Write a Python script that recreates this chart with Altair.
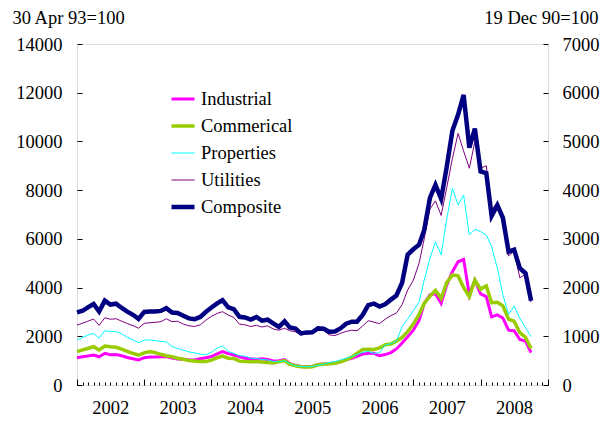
import altair as alt
import pandas as pd

# ---- data (monthly closes, Jan 2002 .. Oct 2008) ----
months = pd.date_range("2002-01-01", "2008-10-01", freq="MS")

industrial = [1120, 1160, 1190, 1230, 1160, 1300, 1240, 1250, 1200, 1130, 1080, 1030,
              1120, 1150, 1150, 1160, 1170, 1110, 1070, 1060, 1040, 1030, 1080, 1120,
              1170, 1280, 1370, 1290, 1230, 1160, 1100, 1080, 1060, 1080, 1050, 990,
              1000, 1040, 880, 800, 760, 750, 760, 840, 860, 880, 900, 950,
              1050, 1100, 1180, 1270, 1300, 1300, 1200, 1250, 1330, 1480, 1720, 1980,
              2250, 2650, 3350, 3700, 3750, 3350, 4100, 4650, 5060, 5160, 3700, 4310,
              3740, 3630, 2800, 2880, 2750, 2250, 2230, 1870, 1800, 1330]
commercial = [1370, 1440, 1500, 1570, 1440, 1600, 1570, 1550, 1470, 1380, 1300, 1230,
              1320, 1370, 1330, 1260, 1200, 1160, 1100, 1060, 1010, 985, 960, 960,
              1020, 1120, 1190, 1100, 1090, 980, 960, 950, 960, 940, 920, 900,
              950, 1000, 850, 790, 750, 740, 750, 830, 850, 870, 890, 950,
              1030, 1150, 1300, 1460, 1470, 1460, 1520, 1650, 1680, 1800, 1950, 2190,
              2500, 2900, 3350, 3650, 3880, 3560, 4200, 4520, 4480, 4000, 3630, 4310,
              3930, 4070, 3380, 3400, 3250, 2700, 2620, 2150, 1960, 1500]
properties = [1850, 1950, 2050, 2120, 1920, 2230, 2200, 2190, 2100, 1950, 1850, 1740,
              1840, 1850, 1820, 1790, 1770, 1580, 1500, 1430, 1360, 1320, 1270, 1240,
              1350, 1520, 1600, 1380, 1300, 1200, 1190, 1100, 1090, 1050, 1030, 970,
              950, 1000, 880, 780, 760, 750, 760, 800, 850, 920, 960, 1030,
              1100, 1180, 1250, 1340, 1380, 1300, 1320, 1640, 1700, 1800, 2400, 2700,
              3050, 3400, 4300, 5200, 5880, 5340, 6800, 8080, 7390, 7800, 6160, 6390,
              6300, 6160, 5680, 4800, 3700, 2900, 3240, 2740, 2350, 1985]
utilities = [2460, 2540, 2620, 2710, 2450, 2760, 2700, 2720, 2620, 2520, 2440, 2330,
             2530, 2560, 2570, 2600, 2720, 2600, 2620, 2500, 2430, 2400, 2470, 2660,
             2820, 2940, 3010, 2870, 2780, 2500, 2470, 2400, 2450, 2380, 2430, 2300,
             2250, 2330, 2230, 2180, 2060, 2090, 2120, 2260, 2240, 2060, 2030, 2120,
             2200, 2250, 2230, 2420, 2640, 2580, 2520, 2700, 2850, 2950, 3300, 3900,
             4300, 5000, 6000, 7220, 7560, 6960, 8100, 9300, 10330, 9600, 8900, 9990,
             8900, 9000, 7190, 7500, 6700, 5300, 5500, 4400, 4550, 3400]
composite = [1491, 1524, 1594, 1662, 1507, 1732, 1651, 1669, 1581, 1507, 1441, 1357,
             1500, 1511, 1511, 1521, 1577, 1487, 1477, 1421, 1367, 1349, 1397, 1497,
             1590, 1675, 1742, 1595, 1555, 1399, 1386, 1342, 1396, 1320, 1340, 1266,
             1191, 1306, 1181, 1159, 1060, 1080, 1083, 1162, 1155, 1092, 1099, 1161,
             1258, 1299, 1298, 1440, 1641, 1672, 1612, 1658, 1752, 1837, 2099, 2675,
             2786, 2881, 3183, 3841, 4109, 3820, 4471, 5218, 5552, 5954, 4871, 5262,
             4383, 4348, 3473, 3693, 3433, 2736, 2776, 2397, 2293, 1729]

series_names = ["Industrial", "Commerical", "Properties", "Utilities", "Composite"]
series_colors = ["#FF00FF", "#99CC00", "#00FFFF", "#800080", "#000080"]
series_widths = [3, 3.5, 1, 1, 4.5]

left_ticks = list(range(0, 14001, 2000))
right_ticks = list(range(0, 7001, 1000))
year_labels = list(range(2002, 2009))

FONT = "Liberation Serif"
FS = 18.5

left_df = pd.DataFrame({
    "date": list(months) * 4,
    "value": industrial + commercial + properties + utilities,
    "series": sum([[n] * len(months) for n in series_names[:4]], []),
})
comp_df = pd.DataFrame({"date": months, "value": composite, "series": "Composite"})

xscale = alt.Scale(domain=[alt.DateTime(year=2002, month=1, date=1),
                           alt.DateTime(year=2009, month=1, date=1)])

# year labels centred in each year (no ticks)
label_axis = alt.Axis(orient="bottom",
                      values=[alt.DateTime(year=y, month=7, date=1) for y in year_labels],
                      format="%Y", ticks=False, domain=False, grid=False, labelPadding=13,
                      labelFont=FONT, labelFontSize=FS, labelColor="black",
                      labelFlush=False, labelOverlap=False, title=None)
# monthly minor ticks pointing inward
minor_axis = alt.Axis(orient="bottom",
                      values=[alt.DateTime(year=2002 + m // 12, month=m % 12 + 1, date=1)
                              for m in range(85)],
                      labels=False, domain=False, grid=False, ticks=True, tickSize=3,
                      offset=-3, tickColor="black", tickWidth=1, title=None, zindex=1)
# yearly major ticks pointing inward
major_axis = alt.Axis(orient="bottom",
                      values=[alt.DateTime(year=y, month=1, date=1) for y in range(2002, 2010)],
                      labels=False, domain=False, grid=False, ticks=True, tickSize=6,
                      offset=-6, tickColor="black", tickWidth=1, title=None, zindex=1)

legend = alt.Legend(orient="none", legendX=92, legendY=43, title=None,
                    symbolType="stroke", symbolSize=529, labelFont=FONT,
                    labelFontSize=FS, labelColor="black", rowPadding=3,
                    clipHeight=24, labelOffset=4, padding=0)
color = alt.Color("series:O",
                  scale=alt.Scale(type="ordinal", domain=series_names, range=series_colors),
                  sort=series_names, legend=legend)
swidth = alt.StrokeWidth("series:O",
                         scale=alt.Scale(type="ordinal", domain=series_names, range=series_widths),
                         sort=series_names, legend=legend)

lyaxis = alt.Axis(values=left_ticks, format="d", offset=-5, tickSize=5, tickColor="black",
                  tickWidth=1, zindex=1,
                  domain=False, grid=False, labelPadding=15, labelFont=FONT,
                  labelFontSize=FS, labelColor="black", labelOverlap=False,
                  title="30 Apr 93=100", titleAngle=0, titleAlign="left",
                  titleBaseline="middle", titleX=-70, titleY=-27, titleFont=FONT,
                  titleFontSize=FS, titleFontWeight="normal", titleColor="black")
ryaxis = alt.Axis(orient="right", values=right_ticks, format="d", offset=-5, tickSize=5,
                  tickColor="black", tickWidth=1, zindex=1,
                  domain=False, grid=False, labelPadding=14,
                  labelFont=FONT, labelFontSize=FS, labelColor="black", labelOverlap=False,
                  title="19 Dec 90=100", titleAngle=0, titleAlign="right",
                  titleBaseline="middle", titleX=55, titleY=-27, titleFont=FONT,
                  titleFontSize=FS, titleFontWeight="normal", titleColor="black")

lines_left = alt.Chart(left_df).mark_line().encode(
    x=alt.X("date:T", scale=xscale, axis=label_axis),
    y=alt.Y("value:Q", scale=alt.Scale(domain=[0, 14000]), axis=lyaxis),
    color=color, strokeWidth=swidth,
    detail="series:N",
)

# invisible carriers for the tick-only axes
minor = alt.Chart(comp_df).mark_point(opacity=0).encode(
    x=alt.X("date:T", scale=xscale, axis=minor_axis),
    y=alt.value(0),
)
major = alt.Chart(comp_df).mark_point(opacity=0).encode(
    x=alt.X("date:T", scale=xscale, axis=major_axis),
    y=alt.value(0),
)

line_right = alt.Chart(comp_df).mark_line().encode(
    x=alt.X("date:T", scale=xscale, axis=None),
    y=alt.Y("value:Q", scale=alt.Scale(domain=[0, 7000]), axis=ryaxis),
    color=color, strokeWidth=swidth,
)

chart = alt.layer(lines_left, minor, major, line_right).resolve_scale(
    y="independent"
).resolve_axis(x="independent").properties(
    width=471, height=341,
    autosize=alt.AutoSizeParams(type="none"),
    padding={"left": 69, "top": 36, "right": 55, "bottom": 32},
).configure_view(stroke="black", strokeWidth=1).configure(background="white")

chart.save("out.html", embed_options={"renderer": "svg", "actions": False})
